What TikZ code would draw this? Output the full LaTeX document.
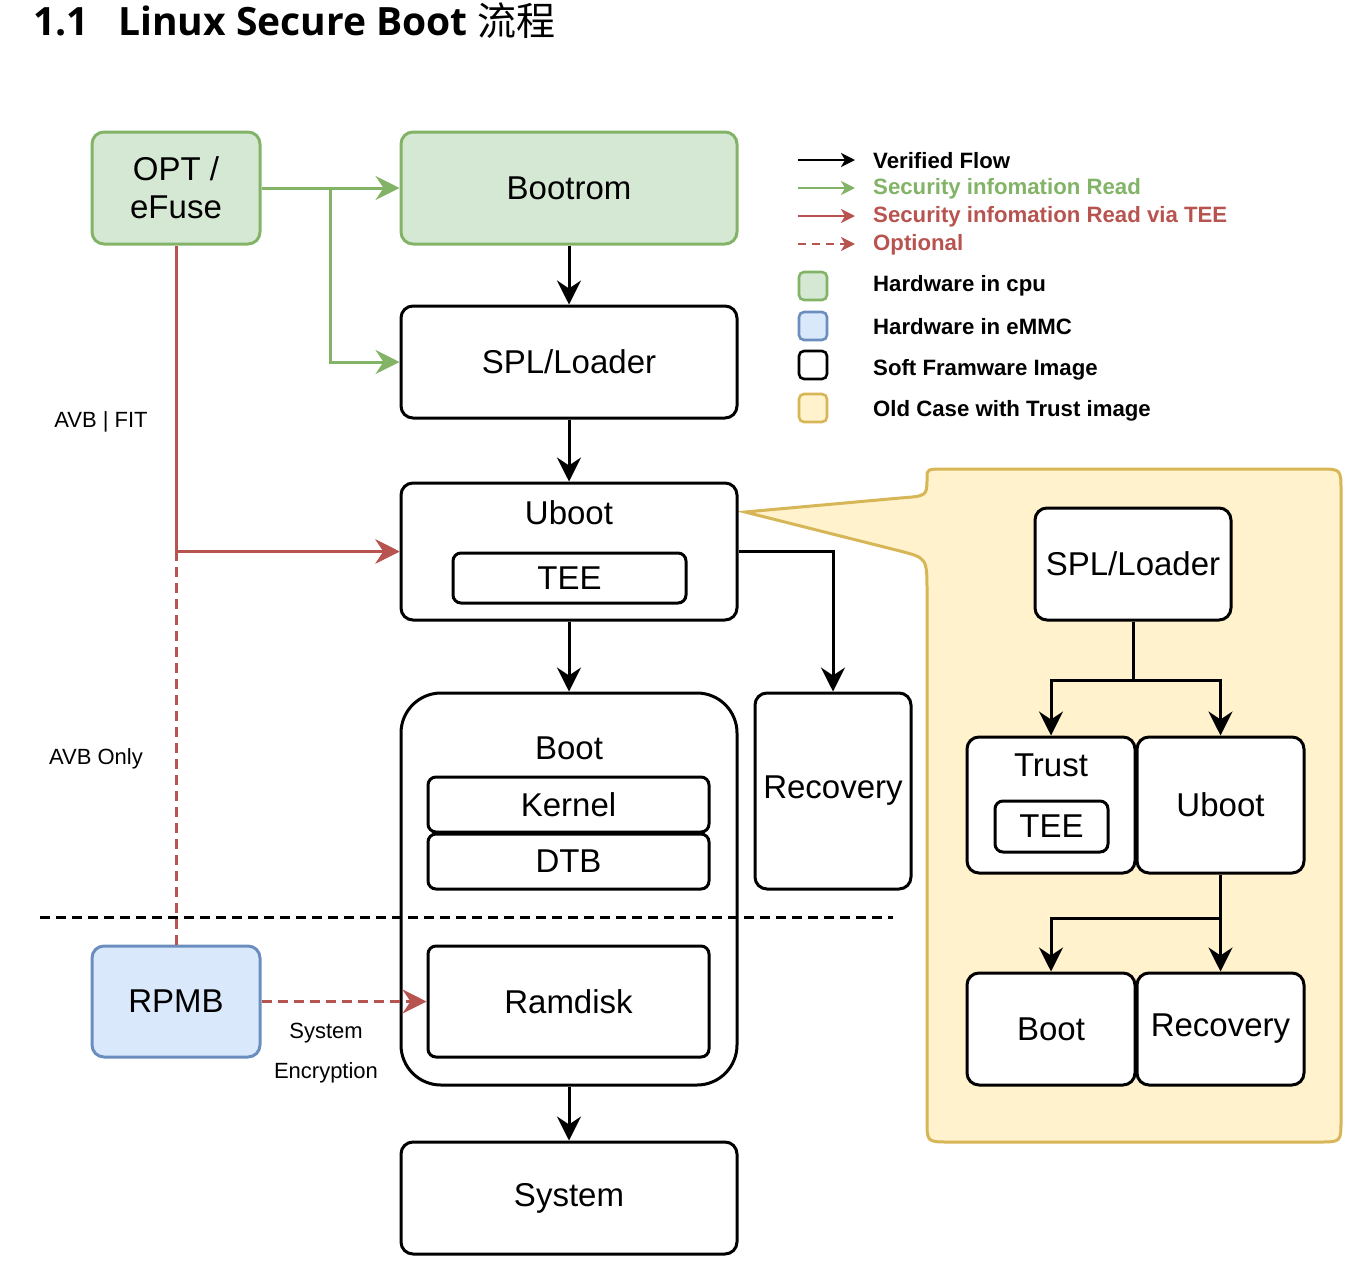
\documentclass[tikz,border=0pt]{standalone}
\usepackage{fontspec}
\setmainfont{Liberation Sans}
\newfontfamily\headfont{Open Sans}
\newfontfamily\cjkfont{Noto Sans CJK SC}
\usetikzlibrary{arrows.meta, positioning}
\usepackage{xcolor}
\definecolor{cpufill}{HTML}{D5E8D4}
\definecolor{cpuline}{HTML}{82B366}
\definecolor{emmcfill}{HTML}{DAE8FC}
\definecolor{emmcline}{HTML}{6C8EBF}
\definecolor{oldfill}{HTML}{FFF2CC}
\definecolor{oldline}{HTML}{D6B656}
\definecolor{teered}{HTML}{B85450}

\begin{document}
\begin{tikzpicture}[x=1pt, y=-1pt,
    every node/.style={font=\fontsize{33}{38}\selectfont, inner sep=0pt},
    img/.style={draw, line width=3pt, rounded corners=12pt, fill=white,
                minimum width=336pt, minimum height=112pt, align=center},
    cpu/.style={img, draw=cpuline, fill=cpufill},
    emmc/.style={img, draw=emmcline, fill=emmcfill},
    part/.style={draw, line width=3pt, rounded corners=8pt, fill=white,
                 minimum width=281pt, minimum height=55pt},
    small/.style={img, minimum width=168pt, minimum height=112pt},
    callout/.style={draw=oldline, fill=oldfill, line width=3pt},
    note/.style={font=\fontsize{22}{26}\selectfont},
    legend/.style={font=\fontsize{22.2}{26}\selectfont\bfseries, anchor=west},
    swatch/.style={draw, line width=2.6pt, rounded corners=5pt, minimum size=28pt},
    arr/.style={-{Stealth[length=24pt, width=24pt, inset=8pt]}, line width=3pt},
    garr/.style={arr, draw=cpuline},
    rarr/.style={arr, draw=teered},
    larr/.style={-{Stealth[length=14pt, width=14pt, inset=4pt]}, line width=2.6pt},
    sep/.style={line width=3pt, dash pattern=on 10pt off 6pt}
]
    \useasboundingbox (0,0) rectangle (1368,1272);

    % Title
    \node[anchor=base west, font=\headfont\bfseries\fontsize{39}{42}\selectfont] (secnum) at (33,35) {1.1};
    \node[anchor=base west, font=\headfont\bfseries\fontsize{39}{42}\selectfont] (title) at (118,35)
        {Linux Secure Boot {\cjkfont\mdseries 流程}};

    % Old case callout (drawn first, behind everything)
    \draw[callout] (745,512) -- (900,498) .. controls (927,496) .. (927,478)
        .. controls (927,469) .. (945,469) -- (1319,469) .. controls (1341,469) .. (1341,491)
        -- (1341,1120) .. controls (1341,1142) .. (1319,1142) -- (949,1142)
        .. controls (927,1142) .. (927,1120) -- (927,592) .. controls (927,558) .. (900,551)
        -- cycle;

    % Main chain
    \node[cpu, minimum width=168pt] (opt) at (176,188) {OPT /\\eFuse};
    \node[cpu] (bootrom) at (569,188) {Bootrom};
    \node[img] (spl) at (569,362) {SPL/Loader};
    \node[img, minimum height=137pt] (uboot) at (569,551.5) {};
    \node (ubootlbl) at (569,513) {Uboot};
    \node[part, minimum width=233pt, minimum height=50pt] (tee) at (569.5,578) {TEE};
    \node[img, minimum height=392pt, rounded corners=40pt] (boot) at (569,889) {};
    \node (bootlbl) at (569,748) {Boot};
    \node[part] (kernel) at (568.5,804.5) {Kernel};
    \node[part] (dtb) at (568.5,861.5) {DTB};
    \node[part, minimum height=111pt] (ramdisk) at (568.5,1001.5) {Ramdisk};
    \node[img, minimum width=156pt, minimum height=196pt] (rec) at (833,791) {Recovery};
    \node[img] (system) at (569,1198) {System};
    \node[emmc, minimum width=168pt, minimum height=111pt] (rpmb) at (176,1001.5) {RPMB};

    % Old case boxes
    \node[img, minimum width=196pt] (cspl) at (1133,564) {SPL/Loader};
    \node[small, minimum height=136pt] (ctrust) at (1051,805) {};
    \node (ctrustlbl) at (1051,765) {Trust};
    \node[part, minimum width=113pt, minimum height=51pt] (ctee) at (1051.5,826.5) {TEE};
    \node[small, minimum width=167pt, minimum height=136pt] (cuboot) at (1220.5,805) {Uboot};
    \node[small] (cboot) at (1051,1029) {Boot};
    \node[small, minimum width=167pt] (crec) at (1220.5,1029) {Recovery};

    % Verified flow
    \draw[arr] (bootrom) -- (spl);
    \draw[arr] (spl) -- (uboot);
    \draw[arr] (uboot) -- (boot);
    \draw[arr] (uboot.east) -| (rec.north);
    \draw[arr] (boot) -- (system);
    \draw[arr] (cspl.south) -- ++(0,59) -| (ctrust.north);
    \draw[arr] (cspl.south) -- ++(0,59) -| (cuboot.north);
    \draw[arr] (cuboot.south) -- (crec.north);
    \draw[arr] (cuboot.south) -- ++(0,44) -| (cboot.north);

    % Security information read
    \coordinate (gsplit) at (330,188);
    \draw[garr] (opt.east) -- (bootrom.west);
    \draw[garr] (gsplit) |- (spl.west);
    \draw[rarr] (opt.south) |- (uboot.west);
    \draw[rarr, sep] (rpmb.north) |- (uboot.west);
    \draw[rarr, sep] (rpmb.east) -- (ramdisk.west);

    % Separator
    \coordinate (sepa) at (40,917);
    \coordinate (sepb) at (893,917);
    \draw[sep] (sepa) -- (sepb);

    % Labels
    \node[note] (avbfit) at (101,422) {AVB | FIT};
    \node[note] (avbonly) at (96,759) {AVB Only};
    \node[note] (sysenc) at (326,1033) {System};
    \node[note] (sysenc2) at (326,1073) {Encryption};

    % Legend
    \node[legend] (lg1) at (873,161) {Verified Flow};
    \node[legend, text=cpuline] (lg2) at (873,189) {Security infomation Read};
    \node[legend, text=teered] (lg3) at (873,217) {Security infomation Read via TEE};
    \node[legend, text=teered] (lg4) at (873,245) {Optional};
    \foreach \y/\c in {160/black, 188/cpuline, 216/teered} {
        \coordinate (la\y) at (798,\y);
        \coordinate (lb\y) at (855,\y);
        \draw[larr, draw=\c] (la\y) -- (lb\y);
    }
    \coordinate (la244) at (798,244);
    \coordinate (lb244) at (855,244);
    \draw[larr, draw=teered, dash pattern=on 8pt off 6pt] (la244) -- (lb244);

    \node[swatch, draw=cpuline, fill=cpufill] (sw1) at (813,286) {};
    \node[swatch, draw=emmcline, fill=emmcfill] (sw2) at (813,326) {};
    \node[swatch, fill=white] (sw3) at (813,365) {};
    \node[swatch, draw=oldline, fill=oldfill] (sw4) at (813,408) {};
    \node[legend] (lg5) at (873,286) {Hardware in cpu};
    \node[legend] (lg6) at (873,327) {Hardware in eMMC};
    \node[legend] (lg7) at (873,370) {Soft Framware Image};
    \node[legend] (lg8) at (873,411) {Old Case with Trust image};
\end{tikzpicture}
\end{document}
